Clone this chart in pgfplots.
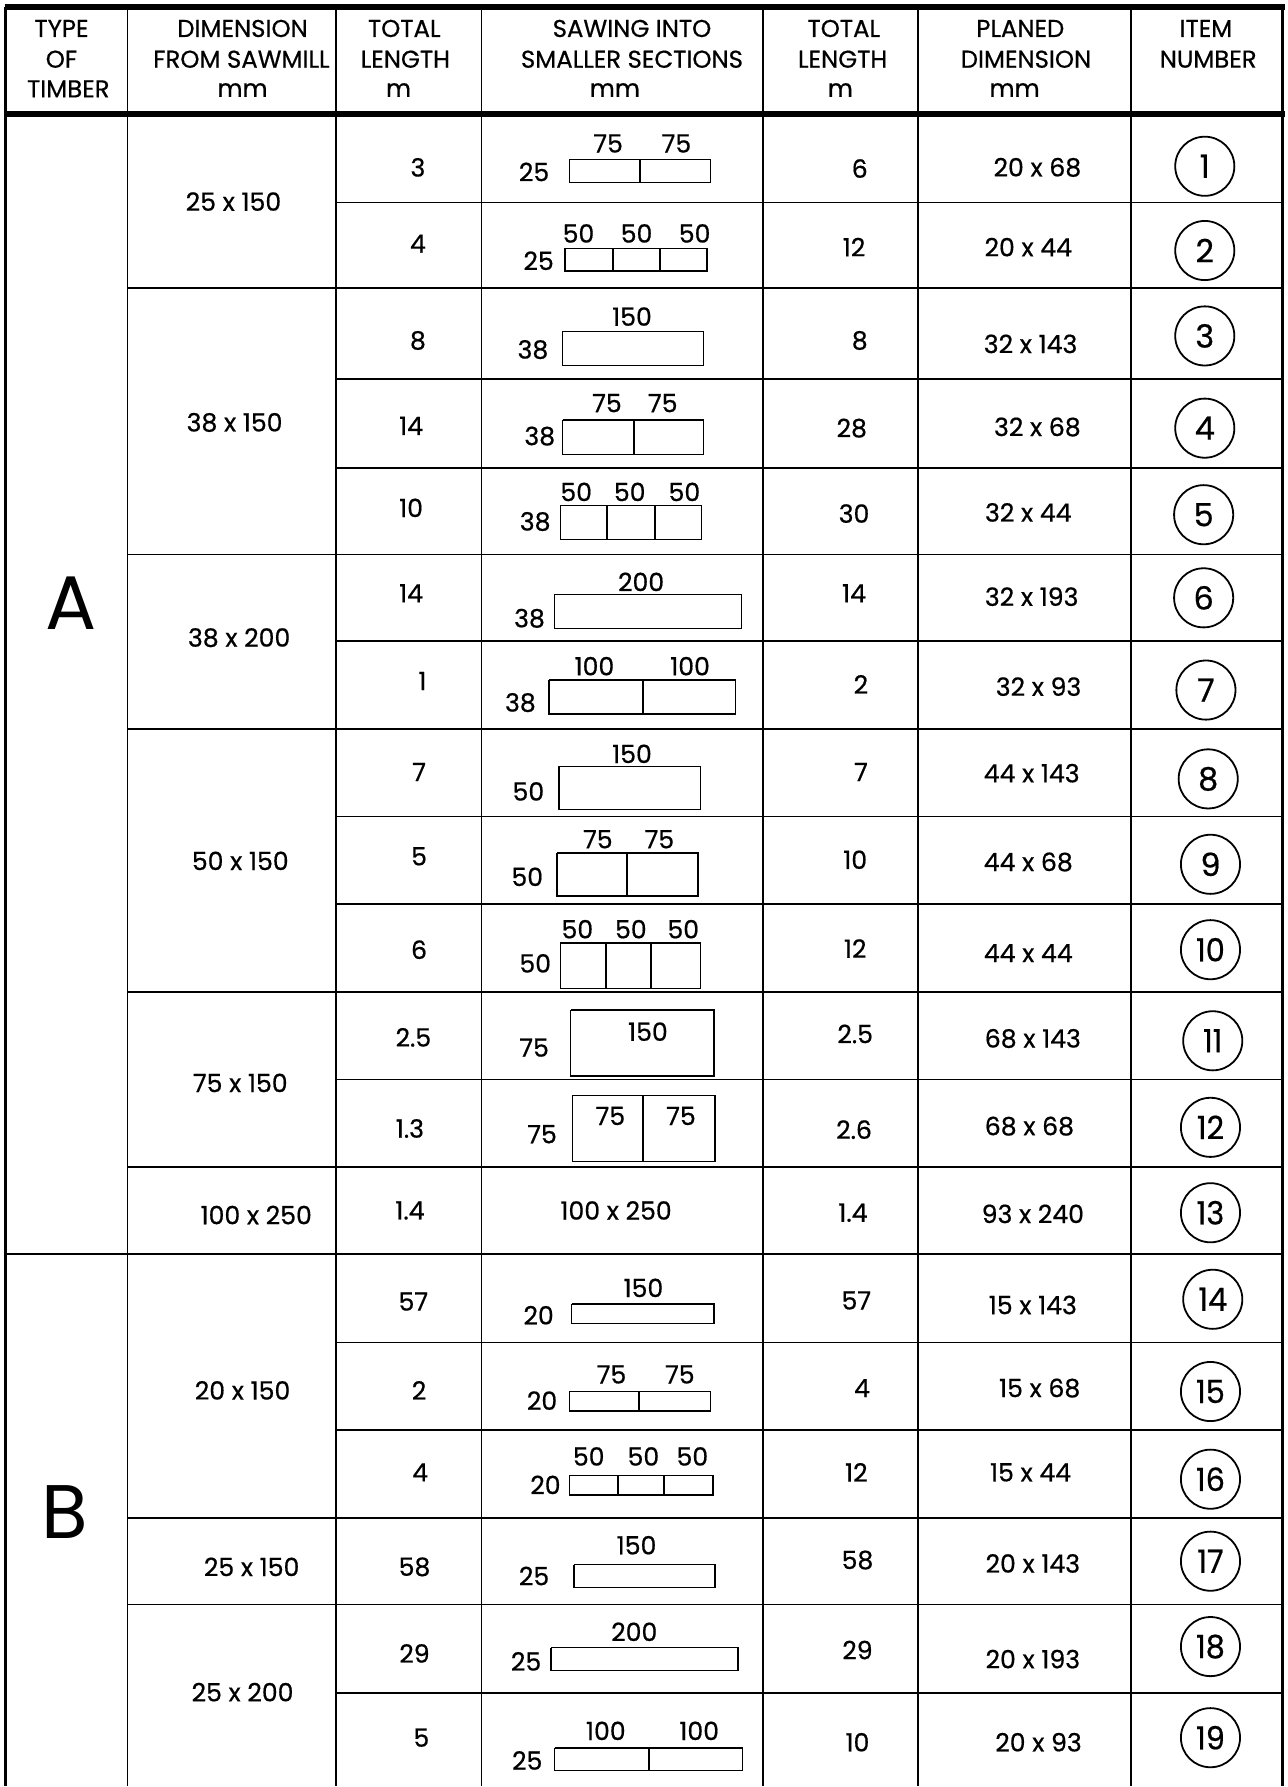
\documentclass[border=0pt]{standalone}
\usepackage{fontspec}
\setmainfont{Poppins}[FakeBold=0.6]
\newfontfamily\plainfont{Poppins}
\usepackage{pgfplots}
\pgfplotsset{compat=1.18}
\newcommand{\bd}{\fontsize{12.6}{14}\selectfont}
\newcommand{\hd}{\fontsize{12.2}{14}\selectfont}
\newcommand{\biglet}{\plainfont\fontsize{38}{40}\selectfont}
\newcommand{\cn}{\fontsize{16}{18}\selectfont}
% horizontal line: x1 x2 y
\newcommand{\hl}[3]{\addplot[black, line width=0.8pt] coordinates {(#1,#3)(#2,#3)};}
% vertical line: x y1 y2
\newcommand{\vl}[3]{\addplot[black, line width=0.8pt] coordinates {(#1,#2)(#1,#3)};}
\newcommand{\dv}[3]{\addplot[black, line width=1pt] coordinates {(#1,#2)(#1,#3)};}
% rectangle x1 y1 x2 y2
\newcommand{\rct}[4]{\addplot[black, line width=0.7pt] coordinates {(#1,#2)(#3,#2)(#3,#4)(#1,#4)(#1,#2)};}
\newcommand{\tx}[3]{\node[font=\bd, inner sep=0pt] at (axis cs:#1,#2) {#3};}
\newcommand{\hx}[3]{\node[font=\hd, inner sep=0pt] at (axis cs:#1,#2) {#3};}
\newcommand{\cx}[3]{\node[font=\cn, inner sep=0pt] at (axis cs:#1,#2) {#3};}
\newcommand{\cxx}[3]{\node[font=\cn, inner sep=0pt] at (axis cs:#1,#2) {\scalebox{0.95}[1]{#3}};}
\begin{document}
\begin{tikzpicture}
\begin{axis}[
  scale only axis, width=643pt, height=893.8pt,
  xmin=0, xmax=1128, ymin=0, ymax=1568, y dir=reverse,
  hide axis, clip=false,
]
\addplot[draw=none] coordinates {(0,0)(1128,1568)};
% ---- frame ----
\addplot[black, line width=2.8pt] coordinates {(4,6)(1128,6)};
\addplot[black, line width=2.8pt] coordinates {(4,100)(1128,100)};
\addplot[black, line width=1.5pt] coordinates {(5,6)(5,1568)};
\addplot[black, line width=1.3pt] coordinates {(1126,6)(1126,1568)};
% column lines
\vl{112}{6}{1568}
\vl{295}{6}{1568}
\vl{423}{6}{1568}
\vl{670}{6}{1568}
\vl{806}{6}{1568}
\vl{993}{6}{1568}
% row split lines
\hl{295}{1126}{178}
\hl{295}{1126}{333}
\hl{295}{1126}{411}
\hl{295}{1126}{563}
\hl{295}{1126}{717}
\hl{295}{1126}{794}
\hl{295}{1126}{948}
\hl{295}{1126}{1179}
\hl{295}{1126}{1256}
\hl{295}{1126}{1487}
% group lines
\hl{112}{1126}{253}
\hl{112}{1126}{487}
\hl{112}{1126}{640}
\hl{112}{1126}{871}
\hl{112}{1126}{1025}
\hl{112}{1126}{1333}
\hl{112}{1126}{1409}
\addplot[black, line width=1pt] coordinates {(5,1101)(1126,1101)};
% ---- header ----
\hx{54}{25}{TYPE}
\hx{54}{52}{OF}
\hx{60}{78}{TIMBER}
\hx{213}{25}{DIMENSION}
\hx{212}{52}{FROM SAWMILL}
\hx{213}{79}{mm}
\hx{355}{25}{TOTAL}
\hx{356}{52}{LENGTH}
\hx{350}{79}{m}
\hx{555}{25}{SAWING INTO}
\hx{555}{52}{SMALLER SECTIONS}
\hx{540}{79}{mm}
\hx{741}{25}{TOTAL}
\hx{740}{52}{LENGTH}
\hx{738}{79}{m}
\hx{896}{25}{PLANED}
\hx{901}{52}{DIMENSION}
\hx{891}{79}{mm}
\hx{1059}{25}{ITEM}
\hx{1061}{52}{NUMBER}
% ---- type ----
\node[font=\biglet, inner sep=0pt] at (axis cs:62,530) {A};
\node[font=\biglet, inner sep=0pt] at (axis cs:57,1328) {B};
% ---- dimension from sawmill ----
\tx{205}{177}{25 x 150}
\tx{206}{371}{38 x 150}
\tx{210}{560}{38 x 200}
\tx{211}{756}{50 x 150}
\tx{211}{951}{75 x 150}
\tx{225}{1067}{100 x 250}
\tx{213}{1221}{20 x 150}
\tx{221}{1376}{25 x 150}
\tx{213}{1486}{25 x 200}
% ---- total length ----
\tx{367}{147}{3}
\tx{367}{214}{4}
\tx{367}{299}{8}
\tx{361}{374}{14}
\tx{361}{446}{10}
\tx{361}{521}{14}
\tx{371}{598}{1}
\tx{368}{678}{7}
\tx{368}{752}{5}
\tx{368}{834}{6}
\tx{363}{911}{2.5}
\tx{360}{991}{1.3}
\tx{360}{1063}{1.4}
\tx{363}{1143}{57}
\tx{368}{1221}{2}
\tx{369}{1293}{4}
\tx{364}{1376}{58}
\tx{364}{1452}{29}
\tx{370}{1526}{5}
% ---- sawing into smaller sections ----
% row 1
\tx{469}{151}{25} \rct{500}{140}{624}{160} \dv{562}{140}{160}
\tx{534}{126}{75} \tx{594}{126}{75}
% row 2
\tx{473}{229}{25} \rct{496}{218}{621}{238} \dv{538}{218}{238} \dv{580}{218}{238}
\tx{508}{205}{50} \tx{559}{205}{50} \tx{610}{205}{50}
% row 3
\tx{468}{307}{38} \rct{494}{291}{618}{321}
\tx{555}{278}{150}
% row 4
\tx{474}{383}{38} \rct{494}{369}{618}{399} \dv{557}{369}{399}
\tx{533}{354}{75} \tx{582}{354}{75}
% row 5
\tx{470}{458}{38} \rct{492}{444}{616}{474} \dv{533}{444}{474} \dv{575}{444}{474}
\tx{506}{432}{50} \tx{553}{432}{50} \tx{601}{432}{50}
% row 6
\tx{465}{543}{38} \rct{487}{522}{651}{552}
\tx{563}{511}{200}
% row 7
\tx{457}{617}{38} \rct{482}{597}{646}{627} \dv{565}{597}{627}
\tx{522}{585}{100} \tx{606}{585}{100}
% row 8
\tx{464}{695}{50} \rct{491}{673}{615}{711}
\tx{555}{662}{150}
% row 9
\tx{463}{770}{50} \rct{489}{749}{613}{787} \dv{551}{749}{787}
\tx{525}{737}{75} \tx{579}{737}{75}
% row 10
\tx{470}{846}{50} \rct{492}{828}{615}{868} \dv{532}{828}{868} \dv{572}{828}{868}
\tx{507}{816}{50} \tx{554}{816}{50} \tx{600}{816}{50}
% row 11
\tx{469}{920}{75} \rct{501}{887}{627}{945}
\tx{569}{906}{150}
% row 12
\tx{476}{996}{75} \rct{503}{962}{628}{1020} \dv{565}{962}{1020}
\tx{536}{980}{75} \tx{598}{980}{75}
% row 13
\tx{541}{1063}{100 x 250}
% row 14
\tx{473}{1155}{20} \rct{502}{1145}{627}{1162}
\tx{565}{1131}{150}
% row 15
\tx{476}{1230}{20} \rct{500}{1222}{624}{1239} \dv{561}{1222}{1239}
\tx{537}{1207}{75} \tx{597}{1207}{75}
% row 16
\tx{479}{1304}{20} \rct{500}{1296}{626}{1313} \dv{543}{1296}{1313} \dv{583}{1296}{1313}
\tx{517}{1279}{50} \tx{565}{1279}{50} \tx{608}{1279}{50}
% row 17
\tx{469}{1384}{25} \rct{504}{1374}{628}{1394}
\tx{559}{1357}{150}
% row 18
\tx{462}{1459}{25} \rct{484}{1447}{648}{1467}
\tx{557}{1433}{200}
% row 19
\tx{463}{1546}{25} \rct{487}{1535}{652}{1555} \dv{570}{1535}{1555}
\tx{532}{1520}{100} \tx{614}{1520}{100}
% ---- total length (sawn) ----
\tx{755}{148}{6}
\tx{750}{217}{12}
\tx{755}{299}{8}
\tx{748}{376}{28}
\tx{750}{451}{30}
\tx{750}{521}{14}
\tx{756}{601}{2}
\tx{756}{678}{7}
\tx{751}{755}{10}
\tx{751}{833}{12}
\tx{751}{908}{2.5}
\tx{750}{992}{2.6}
\tx{749}{1065}{1.4}
\tx{752}{1142}{57}
\tx{757}{1219}{4}
\tx{752}{1293}{12}
\tx{753}{1370}{58}
\tx{753}{1449}{29}
\tx{753}{1530}{10}
% ---- planed dimension ----
\tx{911}{147}{20 x 68}
\tx{903}{217}{20 x 44}
\tx{905}{302}{32 x 143}
\tx{911}{375}{32 x 68}
\tx{903}{450}{32 x 44}
\tx{906}{524}{32 x 193}
\tx{912}{603}{32 x 93}
\tx{906}{679}{44 x 143}
\tx{903}{757}{44 x 68}
\tx{903}{837}{44 x 44}
\tx{907}{912}{68 x 143}
\tx{904}{989}{68 x 68}
\tx{907}{1066}{93 x 240}
\tx{907}{1146}{15 x 143}
\tx{913}{1219}{15 x 68}
\tx{905}{1293}{15 x 44}
\tx{907}{1373}{20 x 143}
\tx{907}{1457}{20 x 193}
\tx{912}{1530}{20 x 93}
% ---- item number circles ----
\addplot[only marks, mark=o, mark size=14.8pt, mark options={black, line width=0.9pt}] coordinates {
(1058,146) (1058,220) (1058,295) (1058,376) (1057,452) (1057,525) (1059,606)
(1061,684) (1063,759) (1063,834) (1065,914) (1063,990) (1063,1065) (1065,1141)
(1063,1222) (1063,1299) (1063,1371) (1063,1446) (1063,1526)};
\cx{1058}{146}{1}
\cx{1058}{220}{2}
\cx{1058}{295}{3}
\cx{1058}{376}{4}
\cx{1057}{452}{5}
\cx{1057}{525}{6}
\cx{1059}{606}{7}
\cx{1061}{684}{8}
\cx{1063}{759}{9}
\cxx{1063}{834}{10}
\cxx{1065}{914}{11}
\cxx{1063}{990}{12}
\cxx{1063}{1065}{13}
\cxx{1065}{1141}{14}
\cxx{1063}{1222}{15}
\cxx{1063}{1299}{16}
\cxx{1063}{1371}{17}
\cxx{1063}{1446}{18}
\cxx{1063}{1526}{19}
\end{axis}
\end{tikzpicture}
\end{document}
